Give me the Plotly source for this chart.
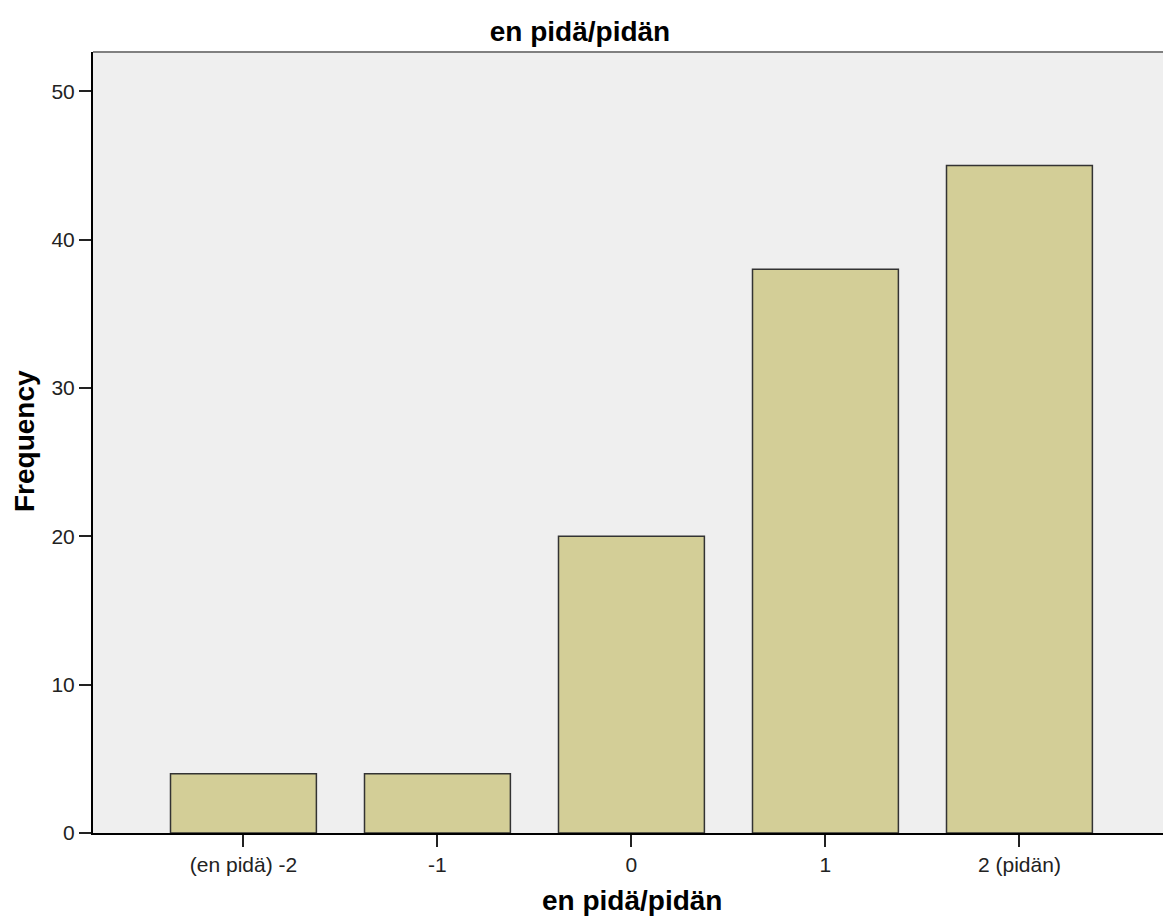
import plotly.graph_objects as go

categories = ["(en pidä) -2", "-1", "0", "1", "2 (pidän)"]
frequencies = [4, 4, 20, 38, 45]
y_ticks = [0, 10, 20, 30, 40, 50]

W, H = 1163, 919
L, R, T, B = 93, 0, 52, 86
plot_w = W - L - R
plot_h = H - T - B

fig = go.Figure()
fig.add_trace(go.Bar(
    x=categories,
    y=frequencies,
    marker=dict(color="#D3CE97", line=dict(color="#333333", width=1.5)),
    hoverinfo="x+y",
))

font_family = "Arial, 'Liberation Sans', sans-serif"
title_size = 28
tick_size = 21

fig.update_layout(
    width=W, height=H,
    margin=dict(l=L, r=R, t=T, b=B, autoexpand=False),
    paper_bgcolor="white",
    plot_bgcolor="#EFEFEF",
    bargap=0.248,
    showlegend=False,
    font=dict(family=font_family, size=tick_size, color="#222222"),
    title=dict(
        text="<b>en pidä/pidän</b>",
        font=dict(family=font_family, size=title_size, color="#000000"),
        x=580 / W, xref="container", xanchor="center",
        y=1 - 31 / H, yref="container", yanchor="middle",
    ),
    xaxis=dict(
        type="category",
        range=[-0.7755, 4.74],
        showline=True, linecolor="#000000", linewidth=2,
        ticks="outside", ticklen=12, tickwidth=2, tickcolor="#222222",
        showgrid=False, zeroline=False,
        tickfont=dict(size=tick_size, color="#222222"),
        fixedrange=True,
    ),
    yaxis=dict(
        range=[0, 52.65],
        tickvals=y_ticks,
        showline=True, linecolor="#000000", linewidth=2,
        ticks="outside", ticklen=12, tickwidth=2, tickcolor="#222222",
        showgrid=False, zeroline=False,
        tickfont=dict(size=tick_size, color="#222222"),
        fixedrange=True,
    ),
    annotations=[
        dict(text="<b>en pidä/pidän</b>", xref="paper", yref="paper",
             x=(632 - L) / plot_w, y=-(900 - (T + plot_h)) / plot_h,
             xanchor="center", yanchor="middle",
             showarrow=False, font=dict(family=font_family, size=title_size, color="#000000")),
        dict(text="<b>Frequency</b>", xref="paper", yref="paper",
             x=(24 - L) / plot_w, y=(T + plot_h - 441) / plot_h,
             xanchor="center", yanchor="middle", textangle=-90,
             showarrow=False, font=dict(family=font_family, size=title_size, color="#000000")),
    ],
    shapes=[
        dict(type="line", xref="paper", yref="paper", x0=0, x1=1, y0=1, y1=1,
             line=dict(color="#808080", width=2)),
    ],
)

fig.write_html(
    "out.html",
    config={"displayModeBar": False},
    post_script="document.body.style.margin='0';document.body.style.overflow='hidden';",
)
